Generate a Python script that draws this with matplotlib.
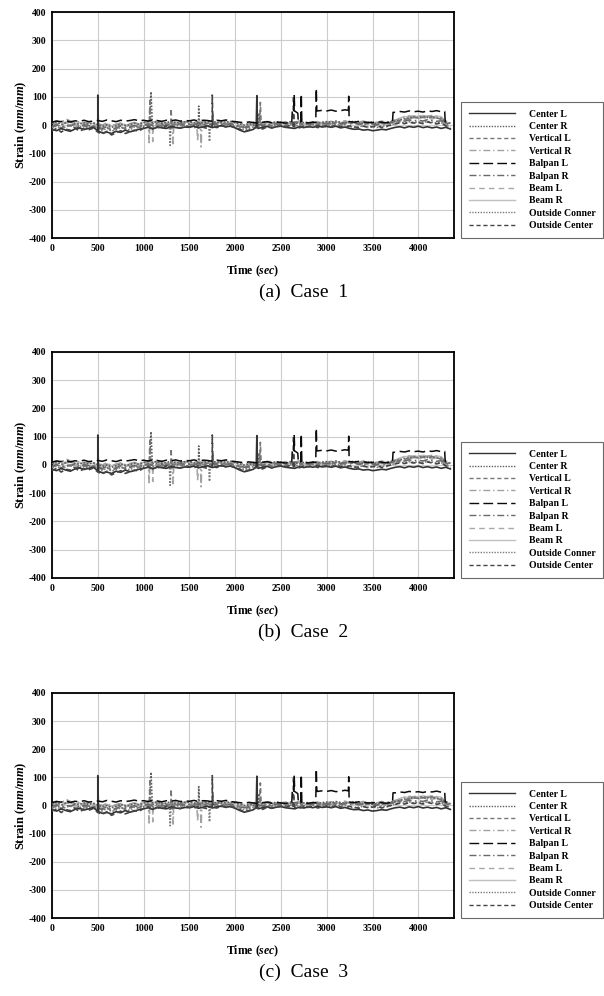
import matplotlib
matplotlib.use("Agg")
import matplotlib.pyplot as plt
import numpy as np

plt.rcParams['font.family'] = ['Liberation Serif', 'DejaVu Serif']
plt.rcParams['font.weight'] = 'bold'
plt.rcParams['axes.unicode_minus'] = False
plt.rcParams['mathtext.fontset'] = 'custom'
plt.rcParams['mathtext.it'] = 'Liberation Serif:italic:bold'
plt.rcParams['mathtext.rm'] = 'Liberation Serif:bold'

# time grid, every 50 s
t_grid = np.arange(0, 4351, 50)

labels = ["Center L", "Center R", "Vertical L", "Vertical R", "Balpan L",
          "Balpan R", "Beam L", "Beam R", "Outside Conner", "Outside Center"]

center_l = [-15, -20, -12, -18, -22, -14, -10, -16, -12, -8,
            -20, -28, -25, -30, -22, -26, -18, -24, -20, -15,
            -12, -8, -14, -6, -10, -12, -5, -9, -11, -7,
            -8, -4, -10, -6, -3, -9, -5, -2, -6, -4,
            -10, -18, -24, -20, -15, -12, -8, -5, -10, -6,
            -4, -8, -10, -12, -6, -9, -5, -8, -3, -7,
            -5, -8, -4, -10, -7, -12, -15, -14, -18, -16,
            -20, -18, -15, -17, -12, -8, -6, -10, -5, -8,
            -4, -9, -6, -10, -7, -12, -8, -14]
center_r = [5, 10, 2, 8, 12, 6, 3, 9, 4, 7,
            2, -5, 0, -8, -3, 4, -2, 1, 6, 3,
            8, 14, 10, 12, 6, 9, 13, 7, 10, 11,
            12, 8, 14, 9, 11, 15, 8, 12, 10, 13,
            9, 4, 0, 2, 6, 10, 7, 12, 8, 11,
            10, 6, 12, 8, 5, 9, 7, 11, 8, 10,
            12, 9, 14, 10, 8, 11, 13, 9, 6, 10,
            8, 5, 10, 7, 12, 14, 18, 22, 25, 28,
            26, 30, 27, 29, 25, 22, 10, 6]
vertical_l = [-8, -2, -10, -4, 0, -6, -12, -3, -8, -5,
              -10, -15, -8, -20, -12, -6, -14, -9, -4, -8,
              2, -3, 5, 0, -4, 3, -1, 4, -2, 1,
              3, -2, 5, 1, 6, -1, 4, 2, 7, 3,
              0, -6, -10, -8, -3, 2, -4, 1, -2, 3,
              2, -3, 5, 0, 4, -2, 3, 6, 1, 4,
              5, 2, 8, 3, 6, 9, 4, 7, 2, 5,
              3, 0, 6, 2, 8, 10, 15, 20, 24, 27,
              25, 28, 24, 30, 26, 20, 5, 2]
vertical_r = [10, 15, 8, 22, 14, 9, 12, 6, 11, 8,
              5, 0, 8, -4, 3, 7, 1, 5, 9, 4,
              12, 8, 15, 10, 13, 7, 11, 14, 9, 12,
              10, 14, 9, 12, 16, 11, 8, 13, 15, 10,
              12, 6, 3, 5, 9, 14, 8, 11, 13, 7,
              9, 12, 6, 10, 14, 8, 11, 7, 12, 9,
              10, 13, 8, 11, 15, 9, 12, 10, 14, 8,
              12, 9, 14, 10, 15, 18, 22, 28, 32, 30,
              33, 29, 31, 34, 30, 27, 14, 10]
balpan_l = [10, 14, 12, 16, 11, 15, 13, 17, 12, 14,
            16, 13, 18, 15, 12, 17, 14, 16, 19, 15,
            17, 14, 18, 16, 13, 17, 15, 18, 14, 16,
            15, 18, 14, 17, 16, 13, 17, 15, 18, 14,
            12, 10, 8, 11, 9, 7, 10, 12, 8, 11,
            9, 7, 9, 50, 10, 9, 8, 10, 50, 52,
            50, 53, 49, 51, 54, 12, 10, 13, 11, 9,
            9, 12, 10, 8, 11, 45, 48, 46, 50, 47,
            49, 46, 50, 48, 51, 47, 12, 9]
balpan_r = [-5, 2, -8, 0, -3, 4, -6, 1, -2, -4,
            -8, -12, -5, -15, -10, -3, -9, -6, -1, -7,
            0, 4, -2, 6, 1, -3, 3, 0, 5, 2,
            4, 1, 6, 2, -1, 5, 3, 7, 2, 4,
            1, -5, -8, -4, 0, 3, -2, 4, 1, 5,
            3, 0, 6, 10, 8, 2, 5, 3, 7, 4,
            6, 3, 8, 5, 9, 4, 7, 2, 5, 8,
            4, 1, 7, 3, 9, 12, 16, 14, 18, 15,
            17, 14, 19, 16, 13, 15, 6, 3]
beam_l = [0, 6, -4, 10, 3, -2, 5, -6, 2, 0,
          -4, -8, 2, -10, -2, 3, -6, 0, 4, -1,
          6, 2, 9, 4, 7, 1, 5, 8, 3, 6,
          7, 3, 9, 5, 8, 2, 6, 10, 4, 7,
          4, -2, -6, -3, 2, 6, 1, 5, 3, 8,
          6, 2, 8, 4, 12, 5, 3, 7, 9, 5,
          8, 4, 10, 6, 3, 7, 9, 5, 8, 4,
          6, 2, 8, 4, 10, 14, 20, 24, 22, 26,
          23, 27, 25, 22, 26, 24, 8, 4]
beam_r = [8, 3, 12, 6, 10, 4, 9, 2, 7, 5,
          0, -6, 4, -3, 2, 6, -1, 3, 8, 2,
          10, 5, 12, 7, 9, 4, 8, 11, 6, 9,
          11, 6, 13, 8, 10, 5, 9, 12, 7, 10,
          7, 2, -2, 1, 5, 9, 4, 8, 6, 10,
          8, 4, 10, 6, 9, 3, 7, 11, 5, 8,
          9, 6, 12, 7, 4, 10, 8, 5, 11, 7,
          6, 3, 9, 5, 11, 16, 25, 30, 28, 32,
          30, 34, 31, 28, 32, 29, 10, 6]
outside_conner = [-10, -4, -14, -6, -2, -9, -5, -12, -7, -3,
                  -14, -20, -10, -22, -16, -8, -13, -18, -6, -11,
                  -4, 0, -6, 2, -3, -8, -1, -5, 1, -2,
                  -3, 0, -5, 2, -2, -6, 1, -4, 3, -1,
                  -4, -10, -16, -12, -6, -2, -8, -1, -5, 0,
                  -2, -6, 2, -4, 0, -7, -3, 1, -5, -1,
                  0, -4, 3, -2, 1, -5, -8, -6, -3, -7,
                  -5, -9, -2, -6, 0, 6, 10, 8, 12, 9,
                  11, 8, 13, 10, 7, 9, -2, -6]
outside_center = [-20, -12, -25, -15, -18, -10, -22, -14, -17, -11,
                  -25, -32, -22, -35, -28, -20, -30, -24, -18, -22,
                  -10, -5, -14, -8, -12, -3, -9, -6, -11, -4,
                  -6, -10, -3, -8, -12, -5, -9, -2, -7, -4,
                  -8, -15, -22, -18, -12, -8, -14, -6, -10, -5,
                  -3, -8, -1, -6, -10, -4, -7, -2, -9, -5,
                  -2, -7, 0, -5, -9, -3, -6, -10, -4, -8,
                  -6, -2, -9, -4, 0, 4, 8, 5, 10, 7,
                  9, 5, 11, 7, 4, 8, -3, -8]

# short events between the grid points: (time, strain)
center_l_ev = [(492, -18), (500, 106), (508, -22), (2230, -6), (2237, 104), (2244, -4)]
center_r_ev = [(1065, 12), (1075, 80), (1081, 118), (1088, 60), (1095, 8),
               (1592, 10), (1602, 67), (1610, 5), (2252, 6), (2262, 42), (2270, 8)]
vertical_l_ev = [(1062, 4), (1070, 95), (1078, -2), (1290, 2), (1300, 58), (1308, -5),
                 (1745, 2), (1755, 45), (1762, 3), (2268, 2), (2275, 80), (2283, 6)]
vertical_r_ev = [(1052, 10), (1060, -62), (1068, 8), (1315, 8), (1322, -66), (1330, 10),
                 (1620, 10), (1628, -77), (1636, 9)]
balpan_l_ev = [(2618, 9), (2624, 52), (2640, 45), (2645, 104), (2684, 42), (2690, 10),
               (2716, 10), (2722, 110), (2728, 9), (2880, 9), (2886, 130), (2892, 50),
               (3236, 52), (3240, 102), (3245, 12), (3718, 10), (3724, 45),
               (4288, 48), (4294, 12)]
balpan_r_ev = []
beam_l_ev = [(1092, 3), (1100, -58), (1108, 4), (1582, 5), (1590, -55), (1598, 6)]
beam_r_ev = []
outside_conner_ev = [(1282, -4), (1290, -72), (1298, -6), (1712, -2), (1720, -58), (1728, 0)]
outside_center_ev = [(1743, -4), (1750, 106), (1757, -6), (2632, -6), (2638, 104), (2644, -3)]

series = [center_l, center_r, vertical_l, vertical_r, balpan_l,
          balpan_r, beam_l, beam_r, outside_conner, outside_center]
events = [center_l_ev, center_r_ev, vertical_l_ev, vertical_r_ev, balpan_l_ev,
          balpan_r_ev, beam_l_ev, beam_r_ev, outside_conner_ev, outside_center_ev]

styles = [
    dict(color='#333333', ls='-', lw=1.2, z=4),
    dict(color='#5e5e5e', ls=(0, (1, 1)), lw=1.2, z=3),
    dict(color='#777777', ls=(0, (3, 2)), lw=1.2, z=3),
    dict(color='#a0a0a0', ls=(0, (5, 2, 1, 2)), lw=1.2, z=2),
    dict(color='#0a0a0a', ls=(0, (7, 3)), lw=1.1, z=6),
    dict(color='#6a6a6a', ls=(0, (5, 2, 1, 2)), lw=1.2, z=3),
    dict(color='#a8a8a8', ls=(0, (4, 3)), lw=1.2, z=2),
    dict(color='#c0c0c0', ls='-', lw=1.2, z=1),
    dict(color='#7c7c7c', ls=(0, (1, 1)), lw=1.2, z=3),
    dict(color='#444444', ls=(0, (3, 2)), lw=1.2, z=5),
]

captions = ["(a)  Case  1", "(b)  Case  2", "(c)  Case  3"]
# axes boxes in figure fractions: left, bottom, width, height
boxes = [(0.0861, 0.761, 0.6656, 0.2269),
         (0.0861, 0.4197, 0.6656, 0.2269),
         (0.0861, 0.0783, 0.6656, 0.2260)]

fig = plt.figure(figsize=(6.04, 9.96), dpi=100)

for box, cap in zip(boxes, captions):
    ax = fig.add_axes(box)
    for lab, y, ev, st in zip(labels, series, events, styles):
        t = np.concatenate([t_grid, [e[0] for e in ev]])
        v = np.concatenate([y, [e[1] for e in ev]])
        order = np.argsort(t, kind='stable')
        ax.plot(t[order], v[order], color=st['color'], linestyle=st['ls'],
                linewidth=st['lw'], zorder=st['z'], label=lab)
    ax.set_xlim(0, 4390)
    ax.set_ylim(-400, 400)
    ax.set_xticks(np.arange(0, 4001, 500))
    ax.set_yticks(np.arange(-400, 401, 100))
    ax.grid(True, color='#cccccc', linewidth=0.8)
    ax.set_axisbelow(True)
    ax.tick_params(length=0, pad=4, labelsize=7)
    for s in ax.spines.values():
        s.set_linewidth(1.3)
    ax.set_ylabel(r'Strain ($\mathit{mm/mm}$)', fontsize=9, fontweight='bold', labelpad=0)
    ax.set_xlabel(r'Time ($\mathit{sec}$)', fontsize=8.5, fontweight='bold', labelpad=8)
    leg = ax.legend(loc='lower left', bbox_to_anchor=(1.017, 0.0), fontsize=7,
                    handlelength=4.8, handletextpad=1.4, labelspacing=0.35,
                    frameon=True, fancybox=False, borderpad=0.8, borderaxespad=0)
    leg.get_frame().set_edgecolor('#444444')
    leg.get_frame().set_linewidth(0.8)
    for h in leg.get_lines():
        h.set_linewidth(1.0)
    pos = ax.get_position()
    fig.text(0.502, pos.y0 - 54 / 996, cap, ha='center', va='center',
             fontsize=14, fontweight='normal')

fig.savefig("out.png", dpi=100)
